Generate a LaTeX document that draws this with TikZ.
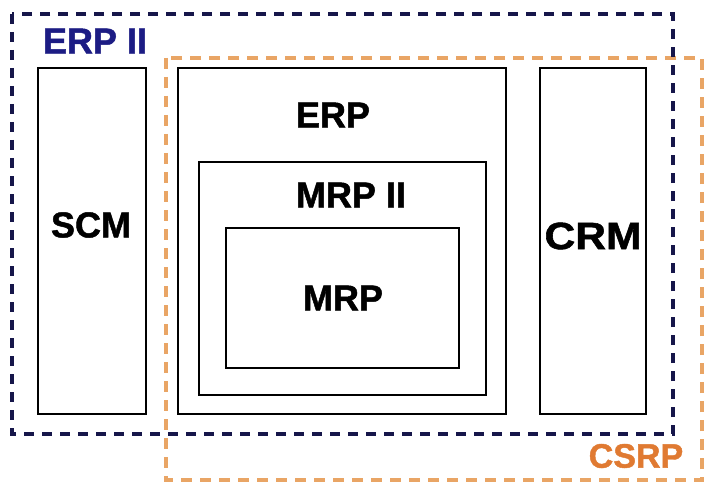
\documentclass[tikz,border=0pt]{standalone}
\usepackage{fontspec}
\setmainfont{Liberation Sans}[BoldFeatures={FakeBold=1.3}]
\definecolor{navyline}{HTML}{16164A}
\definecolor{navytext}{HTML}{1C1C84}
\definecolor{orangeline}{HTML}{E9A565}
\definecolor{orangetext}{HTML}{E07A32}
\begin{document}
\begin{tikzpicture}[x=1pt,y=-1pt,
  solidbox/.style={draw=black,line width=2.8pt,fill=none,inner sep=0pt,outer sep=0pt,shape=rectangle},
  lbl/.style={font=\fontsize{36}{36}\selectfont\bfseries,inner sep=0pt,anchor=center},
  navydash/.style={draw=navyline,line width=3.8pt,dash pattern=on 10pt off 8pt},
  orangedash/.style={draw=orangeline,line width=3.8pt,dash pattern=on 11pt off 8pt}]
\useasboundingbox (0,0) rectangle (704,484);
\fill[white] (0,0) rectangle (704,484);
% CSRP dashed frame
\draw[orangedash] (166,58) rectangle (702,480);
% ERP II dashed frame
\draw[navydash] (12,14) rectangle (673,434);
% boxes
\node[solidbox,minimum width=108pt,minimum height=346pt] (scmbox) at (92,241) {};
\node[solidbox,minimum width=328pt,minimum height=346pt] (erpbox) at (342,241) {};
\node[solidbox,minimum width=287pt,minimum height=233pt] (mrpiibox) at (342.5,278.5) {};
\node[solidbox,minimum width=233pt,minimum height=140pt] (mrpbox) at (342.5,298) {};
\node[solidbox,minimum width=106pt,minimum height=346pt] (crmbox) at (593,241) {};
% labels
\node[lbl,text=navytext] (erpii) at (95,41) {ERP II};
\node[lbl] (scm) at (91,225) {SCM};
\node[lbl] (erp) at (333,115) {ERP};
\node[lbl] (mrpii) at (351,195) {MRP II};
\node[lbl] (mrp) at (343,298) {MRP};
\node[lbl,font=\fontsize{38}{38}\selectfont\bfseries,xscale=1.12] (crm) at (593,236) {CRM};
\node[lbl,text=orangetext,font=\fontsize{34}{34}\selectfont\bfseries] (csrp) at (636,456) {CSRP};
\end{tikzpicture}
\end{document}
